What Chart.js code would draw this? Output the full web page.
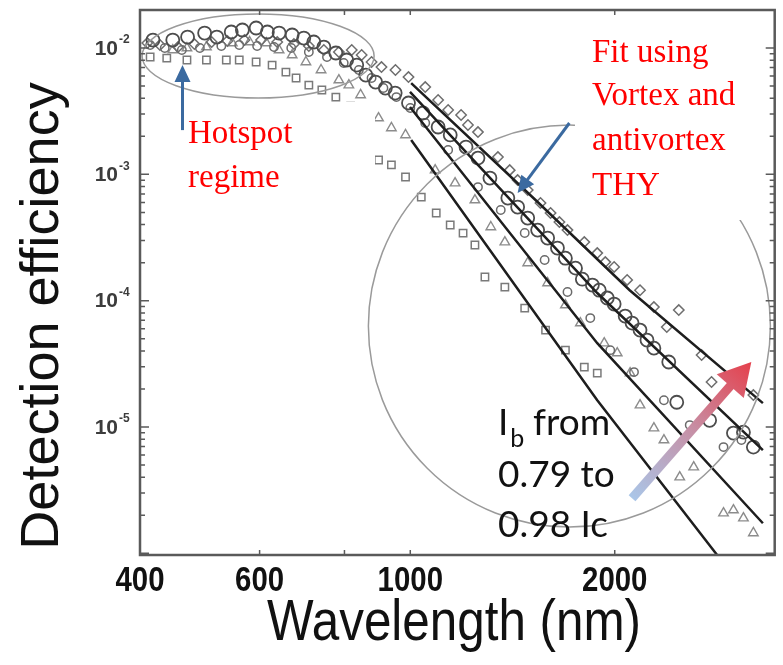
<!DOCTYPE html>
<html>
<head>
<meta charset="utf-8">
<script src="https://cdn.jsdelivr.net/npm/chart.js@4.4.0/dist/chart.umd.min.js"></script>
<style>
  html, body { margin: 0; padding: 0; background: #fff; }
</style>
</head>
<body>
<canvas id="grafico" width="783" height="665"></canvas>
<script>
// Dati: lunghezza d'onda (nm) ed efficienza di rivelazione
var diamondsWl = [410, 428, 455, 481, 510, 538, 570, 603, 637, 674, 709, 746, 785, 820, 848, 877, 907, 951, 994, 1052, 1099, 1137, 1188, 1216, 1258, 1346, 1401, 1439, 1489, 1555, 1609, 1658, 1704, 1804, 1885, 1937, 1996, 2086, 2179, 2284, 2386, 2485, 2685, 2777, 3200];
var diamondsDe = [1.095e-2, 1.056e-2, 1.018e-2, 1.075e-2, 1.116e-2, 1.136e-2, 1.157e-2, 1.157e-2, 1.116e-2, 1.075e-2, 1.037e-2, 9.64e-3, 9.30e-3, 9.64e-3, 8.80e-3, 7.75e-3, 7.07e-3, 6.70e-3, 5.89e-3, 4.91e-3, 3.88e-3, 3.23e-3, 2.95e-3, 2.46e-3, 2.16e-3, 1.37e-3, 1.08e-3, 9.01e-4, 7.51e-4, 5.93e-4, 4.94e-4, 4.19e-4, 3.62e-4, 2.91e-4, 2.38e-4, 2.02e-4, 1.85e-4, 1.46e-4, 1.21e-4, 8.90e-5, 6.18e-5, 8.43e-5, 3.71e-5, 2.27e-5, 1.79e-5];

var bigCirclesWl = [418, 447, 470, 498, 519, 545, 566, 593, 616, 641, 670, 697, 721, 746, 777, 806, 834, 860, 889, 919, 950, 994, 1044, 1099, 1145, 1208, 1258, 1310, 1392, 1439, 1489, 1540, 1593, 1647, 1692, 1751, 1792, 1854, 1898, 1950, 1996, 2072, 2121, 2179, 2231, 2284, 2402, 2468, 2759, 2991, 3094, 3200];
var bigCirclesDe = [1.157e-2, 1.157e-2, 1.222e-2, 1.314e-2, 1.222e-2, 1.339e-2, 1.389e-2, 1.44e-2, 1.339e-2, 1.314e-2, 1.268e-2, 1.20e-2, 1.116e-2, 1.018e-2, 9.13e-3, 8.04e-3, 7.33e-3, 6.11e-3, 5.38e-3, 4.82e-3, 4.40e-3, 3.67e-3, 3.06e-3, 2.37e-3, 2.05e-3, 1.645e-3, 1.345e-3, 9.35e-4, 6.49e-4, 5.51e-4, 4.51e-4, 3.62e-4, 3.13e-4, 2.61e-4, 2.17e-4, 1.81e-4, 1.48e-4, 1.33e-4, 1.21e-4, 1.05e-4, 9.40e-5, 7.55e-5, 6.65e-5, 5.85e-5, 4.88e-5, 4.21e-5, 3.27e-5, 1.57e-5, 1.13e-5, 8.95e-6, 9.1e-6, 6.93e-6];

var smallCirclesWl = [414, 435, 461, 490, 527, 560, 595, 630, 668, 709, 754, 798, 840, 877, 913, 954, 1000, 1052, 1137, 1258, 1359, 1474, 1577, 1704, 1841, 1970, 2135, 2363, 2579, 2892, 3073];
var smallCirclesDe = [1.056e-2, 1.0e-2, 9.64e-3, 1.0e-2, 1.037e-2, 1.056e-2, 1.037e-2, 1.018e-2, 1.0e-2, 9.30e-3, 8.49e-3, 7.61e-3, 6.70e-3, 5.79e-3, 4.82e-3, 4.09e-3, 3.35e-3, 2.55e-3, 1.56e-3, 7.93e-4, 5.22e-4, 3.43e-4, 2.10e-4, 1.17e-4, 7.28e-5, 4.06e-5, 2.72e-5, 1.63e-5, 1.035e-5, 6.93e-6, 7.88e-6];

var trianglesWl = [447, 469, 501, 547, 580, 614, 641, 670, 702, 739, 785, 812, 845, 898, 938, 984, 1088, 1164, 1245, 1314, 1378, 1489, 1593, 1692, 1780, 1930, 2017, 2107, 2179, 2284, 2363, 2493, 2614, 2892, 2991, 3094, 3200];
var trianglesDe = [9.64e-3, 1.0e-2, 1.018e-2, 1.095e-2, 1.116e-2, 1.095e-2, 9.64e-3, 8.80e-3, 7.75e-3, 6.70e-3, 5.58e-3, 5.09e-3, 4.25e-3, 2.79e-3, 2.33e-3, 2.05e-3, 1.08e-3, 8.53e-4, 6.26e-4, 3.83e-4, 2.91e-4, 1.99e-4, 1.38e-4, 9.23e-5, 6.65e-5, 4.61e-5, 3.85e-5, 2.67e-5, 1.49e-5, 9.80e-6, 7.88e-6, 4.01e-6, 4.81e-6, 2.08e-6, 2.20e-6, 1.90e-6, 1.45e-6];

var squaresWl = [414, 438, 469, 501, 536, 560, 593, 626, 656, 679, 709, 741, 777, 817, 851, 898, 938, 984, 1038, 1092, 1145, 1196, 1245, 1288, 1378, 1474, 1582, 1692, 1804, 1885];
var squaresDe = [8.49e-3, 8.33e-3, 8.04e-3, 8.04e-3, 8.04e-3, 8.04e-3, 7.75e-3, 7.33e-3, 6.45e-3, 5.79e-3, 5.09e-3, 4.65e-3, 4.09e-3, 3.47e-3, 2.69e-3, 1.30e-3, 1.19e-3, 9.52e-4, 6.61e-4, 4.94e-4, 3.97e-4, 3.43e-4, 2.76e-4, 1.54e-4, 1.28e-4, 8.74e-5, 5.85e-5, 4.06e-5, 2.98e-5, 2.67e-5];

// Curve di fit (vortex / antivortex THY)
var fit1Wl = [1003, 1540, 2104, 3305];
var fit1De = [5.28e-3, 6.04e-4, 1.21e-4, 1.545e-5];
var fit2Wl = [999, 1885, 3305];
var fit2De = [4.49e-3, 1.15e-4, 6.56e-6];
var fit3Wl = [999, 1885, 3305];
var fit3De = [3.41e-3, 4.61e-5, 1.73e-6];
var fit4Wl = [1003, 1885, 2830];
var fit4De = [1.87e-3, 1.63e-5, 9.7e-7];

// Etichette degli assi
var xTickLabels = [400, 600, 1000, 2000];
var xTickMarks = [600, 800, 1000, 2000];
var yTickExponents = [-2, -3, -4, -5];

function punti(wl, de) {
  return wl.map(function (w, i) { return { x: w, y: de[i] }; });
}

function serieFit(wl, de) {
  return {
    data: punti(wl, de), showLine: true, pointRadius: 0,
    borderColor: '#1e1e1e', borderWidth: 2.5, tension: 0
  };
}

function serieSimboli(wl, de, stile, raggio, colore, spessore) {
  return {
    data: punti(wl, de), showLine: false, pointStyle: stile, pointRadius: raggio,
    borderColor: colore, pointBorderColor: colore, pointBorderWidth: spessore,
    backgroundColor: 'rgba(0,0,0,0)', pointBackgroundColor: 'rgba(0,0,0,0)'
  };
}

function freccia(ctx, x0, y0, x1, y1, shaft, headLen, headHalf, fill) {
  var ang = Math.atan2(y1 - y0, x1 - x0);
  var bx = x1 - headLen * Math.cos(ang), by = y1 - headLen * Math.sin(ang);
  ctx.save();
  ctx.strokeStyle = fill; ctx.fillStyle = fill; ctx.lineWidth = shaft; ctx.lineCap = 'butt';
  ctx.beginPath(); ctx.moveTo(x0, y0); ctx.lineTo(bx + Math.cos(ang), by + Math.sin(ang)); ctx.stroke();
  ctx.beginPath(); ctx.moveTo(x1, y1);
  ctx.lineTo(bx + headHalf * Math.sin(ang), by - headHalf * Math.cos(ang));
  ctx.lineTo(bx - headHalf * Math.sin(ang), by + headHalf * Math.cos(ang));
  ctx.closePath(); ctx.fill();
  ctx.restore();
}

function testoLargo(ctx, txt, x, y, font, larghezza, allinea) {
  ctx.font = font;
  var w = ctx.measureText(txt).width;
  ctx.save();
  ctx.translate(x, y);
  ctx.scale(larghezza / w, 1);
  ctx.textAlign = allinea || 'center';
  ctx.fillText(txt, 0, 0);
  ctx.restore();
}

// Plugin per cornice, tacche, etichette e annotazioni
var annotazioni = {
  id: 'annotazioni',
  afterDatasetsDraw: function (chart) {
    var ctx = chart.ctx, a = chart.chartArea;
    var sx = chart.scales.x, sy = chart.scales.y;
    function P(wl, de) { return { x: sx.getPixelForValue(wl), y: sy.getPixelForValue(de) }; }

    ctx.save();
    // ellisse "hotspot"
    var c1 = P(597, 8.65e-3);
    ctx.strokeStyle = '#9a9a9a'; ctx.lineWidth = 1.5;
    ctx.beginPath(); ctx.ellipse(c1.x, c1.y, 116, 42, 0, 0, Math.PI * 2); ctx.stroke();
    // cerchio regione vortex
    var c2 = P(1715, 6.29e-5);
    ctx.beginPath(); ctx.arc(c2.x, c2.y, 201, 0, Math.PI * 2); ctx.stroke();

    // riquadri bianchi delle didascalie
    ctx.fillStyle = '#ffffff';
    ctx.fillRect(178, 102, 197, 103);
    ctx.fillRect(575, 20, 195, 200);

    // testi rossi
    ctx.fillStyle = '#ff0000';
    ctx.font = '33px "Liberation Serif"';
    ctx.textAlign = 'left'; ctx.textBaseline = 'alphabetic';
    ctx.fillText('Hotspot', 188, 143);
    ctx.fillText('regime', 188, 187);
    ctx.fillText('Fit using', 592, 62);
    ctx.fillText('Vortex and', 592, 105);
    ctx.fillText('antivortex', 592, 150);
    ctx.fillText('THY', 592, 195);

    // frecce blu
    var blu = '#3b6aa0';
    var h0 = P(462, 2.24e-3), h1 = P(462, 7.33e-3);
    freccia(ctx, h0.x, h0.y, h1.x, h1.y, 3, 17, 8, blu);
    var f0 = P(1715, 2.55e-3), f1 = P(1439, 7.11e-4);
    freccia(ctx, f0.x, f0.y, f1.x, f1.y, 3, 17, 8, blu);

    // freccia sfumata della corrente di bias
    var g0 = P(2121, 2.73e-6), g1 = P(3178, 3.27e-5);
    var grad = ctx.createLinearGradient(g0.x, g0.y, g1.x, g1.y);
    grad.addColorStop(0, '#aac6e8');
    grad.addColorStop(0.5, '#c690a6');
    grad.addColorStop(1, '#e5404c');
    freccia(ctx, g0.x, g0.y, g1.x, g1.y, 9, 32, 18, grad);

    // testo nero I_b
    ctx.fillStyle = '#111111';
    ctx.font = '37px Lato';
    ctx.fillText('I', 498, 435);
    var wI = ctx.measureText('I').width;
    ctx.font = '25px Lato';
    ctx.fillText('b', 498 + wI + 2, 447);
    ctx.font = '37px Lato';
    ctx.fillText('from', 533, 435);
    ctx.fillText('0.79 to', 498, 487);
    ctx.fillText('0.98 Ic', 498, 537);

    // cornice
    ctx.strokeStyle = '#5a5a5a'; ctx.lineWidth = 2.5;
    ctx.strokeRect(a.left, a.top, a.right - a.left, a.bottom - a.top);

    // tacche asse y (log, con minori)
    ctx.lineWidth = 1.5;
    for (var d = -7; d <= -1; d++) {
      for (var m = 1; m <= 9; m++) {
        var v = m * Math.pow(10, d);
        if (v < sy.min || v > sy.max) continue;
        var y = sy.getPixelForValue(v);
        var len = m === 1 ? 9 : 5;
        ctx.beginPath();
        ctx.moveTo(a.left, y); ctx.lineTo(a.left + len, y);
        ctx.moveTo(a.right, y); ctx.lineTo(a.right - len, y);
        ctx.stroke();
      }
    }
    // tacche asse x
    xTickMarks.forEach(function (t) {
      var x = sx.getPixelForValue(t);
      ctx.beginPath();
      ctx.moveTo(x, a.bottom); ctx.lineTo(x, a.bottom - 5);
      ctx.moveTo(x, a.top); ctx.lineTo(x, a.top + 5);
      ctx.stroke();
    });

    // etichette asse y
    ctx.fillStyle = '#3c3c3c';
    yTickExponents.forEach(function (e) {
      var y = sy.getPixelForValue(Math.pow(10, e));
      ctx.font = 'bold 21px "Liberation Sans"';
      ctx.textAlign = 'right'; ctx.textBaseline = 'middle';
      ctx.fillText('10', a.left - 22, y + 1);
      ctx.font = 'bold 12px "Liberation Sans"';
      ctx.textAlign = 'left';
      ctx.fillText('-' + Math.abs(e), a.left - 21, y - 8);
    });

    // etichette asse x
    ctx.fillStyle = '#111111';
    ctx.textBaseline = 'alphabetic';
    xTickLabels.forEach(function (t) {
      var x = sx.getPixelForValue(t);
      var txt = String(t);
      ctx.font = 'bold 35px "Liberation Sans"';
      var w = ctx.measureText(txt).width * 0.84;
      testoLargo(ctx, txt, x, 591, 'bold 35px "Liberation Sans"', w, 'center');
    });

    // titoli assi
    testoLargo(ctx, 'Wavelength (nm)', 454, 640, '57px "Liberation Sans"', 374, 'center');
    ctx.save();
    ctx.translate(58, 316);
    ctx.rotate(-Math.PI / 2);
    ctx.font = '54px "Liberation Sans"';
    ctx.textAlign = 'center';
    ctx.fillText('Detection efficiency', 0, 0);
    ctx.restore();

    ctx.restore();
  }
};

var ctx = document.getElementById('grafico').getContext('2d');
var grafico = new Chart(ctx, {
  type: 'scatter',
  data: {
    datasets: [
      serieFit(fit1Wl, fit1De),
      serieFit(fit2Wl, fit2De),
      serieFit(fit3Wl, fit3De),
      serieFit(fit4Wl, fit4De),
      serieSimboli(bigCirclesWl, bigCirclesDe, 'circle', 6.5, '#4d4d4d', 1.8),
      serieSimboli(diamondsWl, diamondsDe, 'rectRot', 5.2, '#6e6e6e', 1.5),
      serieSimboli(smallCirclesWl, smallCirclesDe, 'circle', 4.2, '#6b6b6b', 1.5),
      serieSimboli(trianglesWl, trianglesDe, 'triangle', 5.5, '#8c8c8c', 1.4),
      serieSimboli(squaresWl, squaresDe, 'rect', 5.2, '#7a7a7a', 1.5)
    ]
  },
  options: {
    responsive: false,
    animation: false,
    layout: { padding: { left: 140, right: 4, top: 10, bottom: 110 } },
    plugins: { legend: { display: false }, tooltip: { enabled: false } },
    scales: {
      x: { type: 'logarithmic', min: 400, max: 3440, display: false },
      y: { type: 'logarithmic', min: 9.7e-7, max: 0.02, display: false }
    }
  },
  plugins: [annotazioni]
});
</script>
</body>
</html>
